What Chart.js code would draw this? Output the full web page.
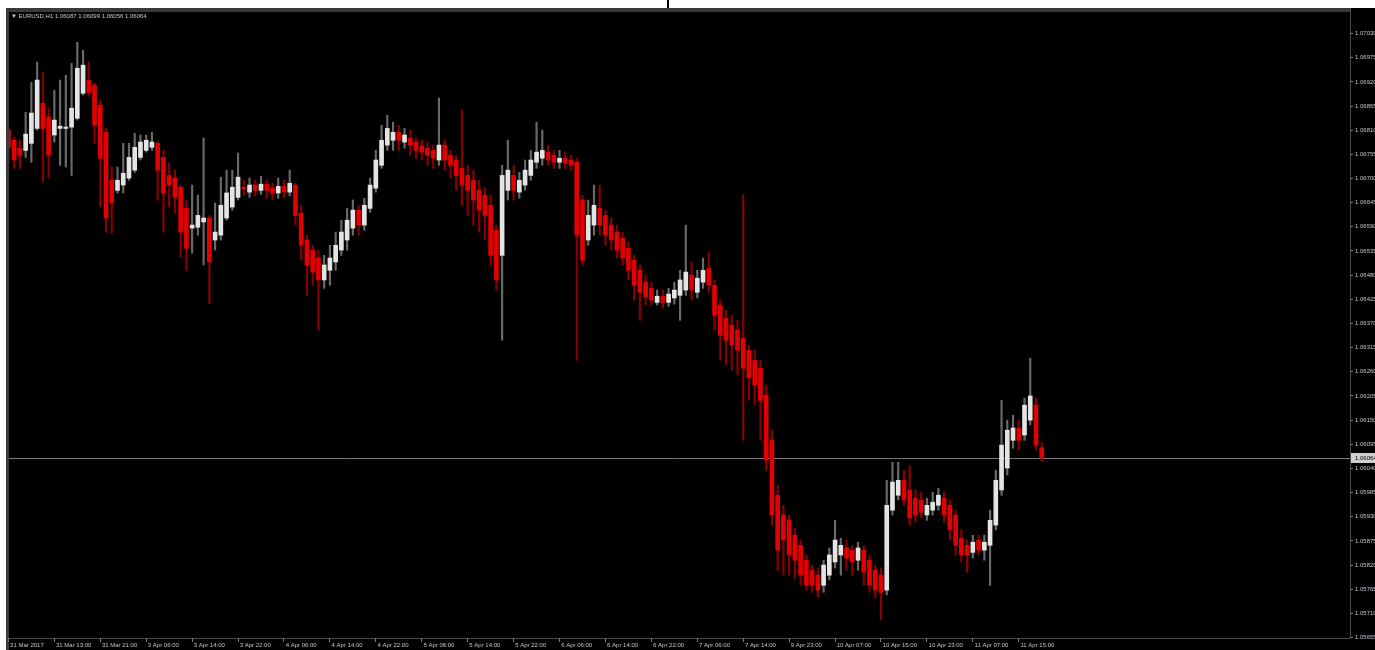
<!doctype html>
<html lang="en">
<head>
<meta charset="utf-8">
<title>EURUSD,H1</title>
<style>
  * { margin: 0; padding: 0; }
  body { width: 1375px; height: 650px; overflow: hidden; background: #fff; }
  .chartBox { position: relative; width: 1375px; height: 650px; }
</style>
</head>
<body>
<div class="chartBox"><canvas id="myChart"></canvas></div>
<script src="https://cdn.jsdelivr.net/npm/chart.js/dist/chart.umd.min.js"></script>
<script>
// EURUSD H1, 31 Mar 2017 .. 11 Apr 2017, one entry per hourly bar
const symbol = 'EURUSD,H1';

const openP = [
  1.06810,1.06787,1.06769,1.06764,1.06780,1.06814,1.06871,1.06840,1.06799,1.06814,
  1.06814,1.06817,1.06837,1.06894,1.06924,1.06912,1.06867,1.06805,1.06696,1.06673,
  1.06685,1.06701,1.06719,1.06748,1.06764,1.06771,1.06780,1.06748,1.06707,1.06701,
  1.06680,1.06632,1.06587,1.06589,1.06601,1.06610,1.06560,1.06571,1.06610,1.06635,
  1.06657,1.06680,1.06669,1.06685,1.06673,1.06687,1.06678,1.06667,1.06682,1.06669,
  1.06685,1.06621,1.06560,1.06537,1.06519,1.06469,1.06491,1.06510,1.06537,1.06560,
  1.06587,1.06628,1.06594,1.06632,1.06678,1.06730,1.06776,1.06787,1.06805,1.06783,
  1.06792,1.06783,1.06774,1.06769,1.06764,1.06742,1.06776,1.06753,1.06742,1.06723,
  1.06707,1.06696,1.06673,1.06662,1.06639,1.06582,1.06525,1.06673,1.06707,1.06669,
  1.06685,1.06707,1.06737,1.06746,1.06760,1.06753,1.06737,1.06746,1.06742,1.06737,
  1.06651,1.06560,1.06594,1.06632,1.06616,1.06594,1.06578,1.06564,1.06541,1.06514,
  1.06491,1.06464,1.06450,1.06418,1.06432,1.06418,1.06428,1.06434,1.06446,1.06480,
  1.06441,1.06464,1.06496,1.06457,1.06412,1.06382,1.06366,1.06355,1.06336,1.06309,
  1.06286,1.06268,1.06207,1.06104,1.05979,1.05934,1.05922,1.05888,1.05865,1.05831,
  1.05808,1.05797,1.05774,1.05797,1.05827,1.05843,1.05859,1.05854,1.05831,1.05854,
  1.05831,1.05808,1.05797,1.05763,1.05945,1.05979,1.06013,1.05991,1.05972,1.05968,
  1.05934,1.05945,1.05956,1.05972,1.05956,1.05934,1.05881,1.05865,1.05849,1.05877,
  1.05854,1.05865,1.05911,1.05991,1.06041,1.06104,1.06132,1.06116,1.06150,1.06184,1.06087
];
const highP = [
  1.06817,1.06794,1.06787,1.06851,1.06919,1.06965,1.06942,1.06860,1.06901,1.06924,
  1.06935,1.06962,1.07010,1.06992,1.06965,1.06917,1.06878,1.06814,1.06726,1.06726,
  1.06780,1.06780,1.06803,1.06799,1.06799,1.06805,1.06785,1.06764,1.06735,1.06719,
  1.06685,1.06651,1.06685,1.06662,1.06792,1.06616,1.06644,1.06703,1.06719,1.06719,
  1.06758,1.06696,1.06701,1.06696,1.06705,1.06696,1.06689,1.06701,1.06696,1.06719,
  1.06689,1.06639,1.06571,1.06548,1.06537,1.06525,1.06548,1.06578,1.06605,1.06632,
  1.06651,1.06639,1.06655,1.06701,1.06764,1.06821,1.06844,1.06828,1.06821,1.06814,
  1.06810,1.06792,1.06787,1.06783,1.06776,1.06883,1.06787,1.06764,1.06753,1.06855,
  1.06730,1.06719,1.06696,1.06678,1.06662,1.06594,1.06730,1.06787,1.06730,1.06714,
  1.06742,1.06764,1.06828,1.06810,1.06776,1.06764,1.06764,1.06760,1.06753,1.06746,
  1.06662,1.06651,1.06685,1.06685,1.06628,1.06610,1.06594,1.06578,1.06555,1.06525,
  1.06503,1.06480,1.06464,1.06446,1.06446,1.06450,1.06464,1.06491,1.06594,1.06510,
  1.06491,1.06519,1.06532,1.06469,1.06423,1.06400,1.06389,1.06377,1.06662,1.06321,
  1.06309,1.06286,1.06230,1.06127,1.06002,1.05956,1.05934,1.05904,1.05877,1.05843,
  1.05820,1.05813,1.05831,1.05859,1.05922,1.05881,1.05877,1.05865,1.05872,1.05865,
  1.05843,1.05820,1.05813,1.06013,1.06054,1.06054,1.06036,1.06047,1.05991,1.05986,
  1.05972,1.05986,1.05995,1.05986,1.05968,1.05945,1.05900,1.05877,1.05888,1.05888,
  1.05888,1.05945,1.06036,1.06195,1.06150,1.06161,1.06150,1.06200,1.06291,1.06200,1.06099
];
const lowP = [
  1.06735,1.06723,1.06723,1.06748,1.06737,1.06810,1.06692,1.06701,1.06783,1.06730,
  1.06726,1.06707,1.06833,1.06890,1.06887,1.06780,1.06635,1.06578,1.06576,1.06667,
  1.06667,1.06696,1.06714,1.06742,1.06760,1.06764,1.06651,1.06578,1.06635,1.06621,
  1.06521,1.06491,1.06530,1.06571,1.06503,1.06416,1.06537,1.06560,1.06605,1.06628,
  1.06651,1.06662,1.06657,1.06660,1.06664,1.06655,1.06651,1.06655,1.06657,1.06660,
  1.06594,1.06514,1.06434,1.06457,1.06355,1.06450,1.06457,1.06491,1.06525,1.06537,
  1.06571,1.06571,1.06582,1.06623,1.06669,1.06723,1.06764,1.06764,1.06764,1.06769,
  1.06753,1.06746,1.06742,1.06730,1.06723,1.06730,1.06719,1.06701,1.06673,1.06639,
  1.06616,1.06594,1.06578,1.06560,1.06503,1.06446,1.06332,1.06651,1.06651,1.06655,
  1.06673,1.06696,1.06723,1.06730,1.06730,1.06723,1.06723,1.06723,1.06719,1.06286,
  1.06503,1.06548,1.06571,1.06571,1.06548,1.06537,1.06519,1.06503,1.06469,1.06423,
  1.06377,1.06412,1.06412,1.06412,1.06405,1.06409,1.06414,1.06377,1.06434,1.06423,
  1.06428,1.06450,1.06441,1.06355,1.06286,1.06275,1.06264,1.06252,1.06104,1.06195,
  1.06184,1.06104,1.06036,1.05911,1.05808,1.05797,1.05797,1.05790,1.05774,1.05763,
  1.05758,1.05747,1.05758,1.05786,1.05813,1.05797,1.05808,1.05797,1.05808,1.05774,
  1.05758,1.05745,1.05695,1.05752,1.05934,1.05968,1.05956,1.05911,1.05918,1.05927,
  1.05922,1.05934,1.05945,1.05918,1.05877,1.05843,1.05827,1.05804,1.05836,1.05843,
  1.05831,1.05774,1.05900,1.05979,1.06025,1.06086,1.06082,1.06104,1.06139,1.06082,1.06056
];
const closeP = [
  1.06771,1.06742,1.06753,1.06801,1.06849,1.06924,1.06814,1.06753,1.06833,1.06819,
  1.06817,1.06860,1.06951,1.06958,1.06896,1.06821,1.06746,1.06610,1.06644,1.06696,
  1.06712,1.06748,1.06771,1.06783,1.06787,1.06783,1.06719,1.06667,1.06685,1.06657,
  1.06578,1.06541,1.06594,1.06616,1.06610,1.06510,1.06578,1.06639,1.06667,1.06680,
  1.06703,1.06676,1.06685,1.06673,1.06687,1.06673,1.06667,1.06682,1.06669,1.06689,
  1.06616,1.06548,1.06503,1.06487,1.06469,1.06503,1.06519,1.06548,1.06578,1.06605,
  1.06628,1.06594,1.06639,1.06685,1.06742,1.06787,1.06814,1.06805,1.06787,1.06799,
  1.06776,1.06764,1.06760,1.06753,1.06746,1.06776,1.06742,1.06730,1.06707,1.06685,
  1.06673,1.06651,1.06628,1.06616,1.06525,1.06469,1.06707,1.06719,1.06673,1.06696,
  1.06719,1.06742,1.06760,1.06764,1.06742,1.06737,1.06746,1.06735,1.06730,1.06571,
  1.06514,1.06616,1.06639,1.06594,1.06571,1.06560,1.06537,1.06519,1.06491,1.06457,
  1.06441,1.06430,1.06423,1.06432,1.06418,1.06437,1.06446,1.06469,1.06487,1.06446,
  1.06473,1.06491,1.06457,1.06389,1.06343,1.06332,1.06321,1.06309,1.06268,1.06246,
  1.06230,1.06195,1.06059,1.05934,1.05854,1.05877,1.05843,1.05831,1.05797,1.05774,
  1.05774,1.05763,1.05820,1.05843,1.05877,1.05865,1.05836,1.05827,1.05859,1.05804,
  1.05774,1.05763,1.05758,1.05956,1.06009,1.06013,1.05968,1.05927,1.05934,1.05940,
  1.05956,1.05963,1.05979,1.05934,1.05900,1.05865,1.05843,1.05843,1.05872,1.05854,
  1.05872,1.05922,1.06013,1.06093,1.06127,1.06132,1.06104,1.06184,1.06205,1.06093,1.06064
];

// time axis labels, one every 8 bars
const timeLabels = [
  '31 Mar 2017', '31 Mar 13:00', '31 Mar 21:00', '3 Apr 06:00', '3 Apr 14:00', '3 Apr 22:00',
  '4 Apr 06:00', '4 Apr 14:00', '4 Apr 22:00', '5 Apr 06:00', '5 Apr 14:00', '5 Apr 22:00',
  '6 Apr 06:00', '6 Apr 14:00', '6 Apr 22:00', '7 Apr 06:00', '7 Apr 14:00', '9 Apr 23:00',
  '10 Apr 07:00', '10 Apr 15:00', '10 Apr 23:00', '11 Apr 07:00', '11 Apr 15:00'
];
const labelEvery = 8;

const priceTicks = [
  1.07030, 1.06975, 1.06920, 1.06865, 1.06810, 1.06755, 1.06700, 1.06645, 1.06590,
  1.06535, 1.06480, 1.06425, 1.06370, 1.06315, 1.06260, 1.06205, 1.06150, 1.06095,
  1.06040, 1.05985, 1.05930, 1.05875, 1.05820, 1.05765, 1.05710, 1.05655
];

const bullBody = '#e4e4e4', bullWick = '#6a6a6a';
const bearBody = '#e40000', bearWick = '#8a0000';
const FONT = '"Liberation Sans", "DejaVu Sans", sans-serif';

const isBull = closeP.map((c, i) => c >= openP[i]);
const bodies = openP.map((o, i) => ({ x: i, y: [o, closeP[i]] }));
const wicks = lowP.map((l, i) => ({ x: i, y: [l, highP[i]] }));
const last = closeP.length - 1;

// MT4-like frame, price line and header
const frame = {
  id: 'frame',
  beforeDraw(chart) {
    const ctx = chart.ctx, a = chart.chartArea;
    ctx.save();
    ctx.fillStyle = '#fff';
    ctx.fillRect(0, 0, chart.width, chart.height);
    ctx.fillStyle = '#000';
    ctx.fillRect(6, 8, chart.width - 6, chart.height - 8);
    ctx.fillRect(667, 0, 2, 8);
    ctx.fillStyle = '#3a3a3a';
    ctx.fillRect(6, 8, a.right - 6, 4);
    ctx.fillRect(6, 8, 3, chart.height - 8);
    ctx.fillStyle = '#4a4a4a';
    ctx.fillRect(6, a.bottom, a.right - 6, 1);
    ctx.fillRect(a.right, 8, 1, a.bottom - 8);
    ctx.restore();
  },
  beforeDatasetsDraw(chart) {
    const ctx = chart.ctx, a = chart.chartArea;
    const y = Math.round(chart.scales.y.getPixelForValue(closeP[last])) + 0.5;
    ctx.save();
    ctx.strokeStyle = '#7a7a7a';
    ctx.lineWidth = 1;
    ctx.beginPath();
    ctx.moveTo(a.left, y);
    ctx.lineTo(a.right, y);
    ctx.stroke();
    ctx.restore();
  },
  afterDraw(chart) {
    const ctx = chart.ctx, a = chart.chartArea;
    const y = Math.round(chart.scales.y.getPixelForValue(closeP[last]));
    ctx.save();
    ctx.fillStyle = '#d0d0d0';
    ctx.fillRect(a.right + 1, y - 5, chart.width - a.right, 10);
    ctx.fillStyle = '#000';
    ctx.font = '6px ' + FONT;
    ctx.textBaseline = 'middle';
    ctx.fillText(closeP[last].toFixed(5), a.right + 5, y + 0.5);

    ctx.fillStyle = '#c8c8c8';
    ctx.fillText('\u25BC ' + symbol + ' ' + openP[last].toFixed(5) + ' ' + highP[last].toFixed(5) + ' ' +
      lowP[last].toFixed(5) + ' ' + closeP[last].toFixed(5), 11, 16);
    ctx.restore();
  }
};

Chart.defaults.font.family = FONT;

const config = {
  type: 'bar',
  data: {
    datasets: [
      {
        label: 'wick',
        data: wicks,
        backgroundColor: isBull.map(b => b ? bullWick : bearWick),
        barThickness: 1.5,
        minBarLength: 1,
        grouped: false,
        order: 2
      },
      {
        label: 'body',
        data: bodies,
        backgroundColor: isBull.map(b => b ? bullBody : bearBody),
        barThickness: 4,
        minBarLength: 1,
        grouped: false,
        order: 1
      }
    ]
  },
  options: {
    responsive: true,
    maintainAspectRatio: false,
    animation: false,
    events: [],
    layout: { padding: { left: 9, top: 12, right: 0, bottom: 0 } },
    plugins: { legend: { display: false }, tooltip: { enabled: false } },
    scales: {
      x: {
        type: 'linear',
        min: 0.1,
        max: 233.7,
        offset: false,
        grid: { drawOnChartArea: false, drawTicks: true, tickLength: 4, color: '#7a7a7a', offset: false },
        border: { display: false },
        ticks: {
          autoSkip: false,
          maxRotation: 0,
          minRotation: 0,
          align: 'start',
          padding: 0,
          color: '#c0c4cc',
          font: { size: 6 },
          callback: (v, idx) => ' ' + timeLabels[idx]
        },
        afterBuildTicks: s => { s.ticks = timeLabels.map((t, k) => ({ value: k * labelEvery })); },
        afterFit: s => { s.height = 12; }
      },
      y: {
        position: 'right',
        min: 1.05654,
        max: 1.07079,
        grid: { drawOnChartArea: false, drawTicks: true, tickLength: 3, color: '#7a7a7a' },
        border: { display: false },
        ticks: {
          autoSkip: false,
          padding: 2,
          color: '#c0c4cc',
          font: { size: 6 },
          callback: v => v.toFixed(5)
        },
        afterBuildTicks: s => { s.ticks = priceTicks.map(v => ({ value: v })); },
        afterFit: s => { s.width = 25; }
      }
    }
  },
  plugins: [frame]
};

const myChart = new Chart(document.getElementById('myChart'), config);
</script>
</body>
</html>
